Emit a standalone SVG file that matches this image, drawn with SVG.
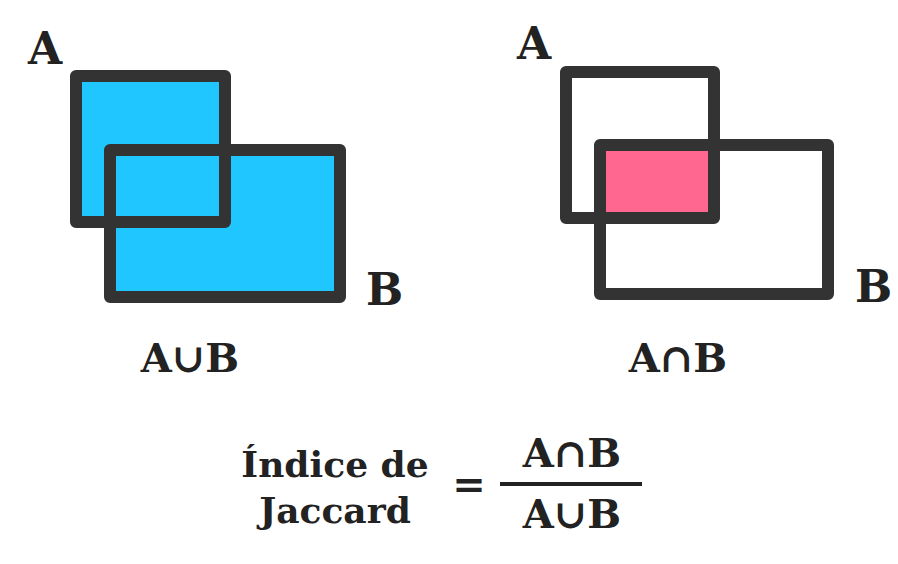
<svg xmlns="http://www.w3.org/2000/svg" width="898" height="564" viewBox="0 0 898 564">
<style>
.r{fill:none;stroke:#333;stroke-width:12;stroke-linejoin:round}
.t{font-family:"DejaVu Serif",serif;font-weight:bold;fill:#222}
</style>
<rect width="898" height="564" fill="#fff"/>
<g id="union">
<rect x="76" y="76" width="149" height="146" fill="#20c6ff"/>
<rect x="110" y="150" width="230" height="147" fill="#20c6ff"/>
<rect class="r" x="76" y="76" width="149" height="146"/>
<rect class="r" x="110" y="150" width="230" height="147"/>
<text class="t" x="28" y="64" font-size="44">A</text>
<text class="t" x="366" y="305" font-size="44">B</text>
<text class="t" x="190" y="372" font-size="40" text-anchor="middle">A∪B</text>
</g>
<g id="intersection">
<rect x="606" y="151" width="102" height="61" fill="#ff6690"/>
<rect class="r" x="566" y="72" width="148" height="146"/>
<rect class="r" x="600" y="145" width="228" height="149"/>
<text class="t" x="517" y="59" font-size="44">A</text>
<text class="t" x="855" y="302" font-size="44">B</text>
<text class="t" x="678" y="372" font-size="40" text-anchor="middle">A∩B</text>
</g>
<g id="formula">
<text class="t" x="335" y="477" font-size="36" text-anchor="middle">Índice de</text>
<text class="t" x="335" y="523" font-size="36" text-anchor="middle">Jaccard</text>
<text class="t" x="469" y="498" font-size="40" text-anchor="middle">=</text>
<rect x="500" y="482" width="142" height="4" fill="#222"/>
<text class="t" x="572" y="467" font-size="40" text-anchor="middle">A∩B</text>
<text class="t" x="572" y="528" font-size="40" text-anchor="middle">A∪B</text>
</g>
</svg>
